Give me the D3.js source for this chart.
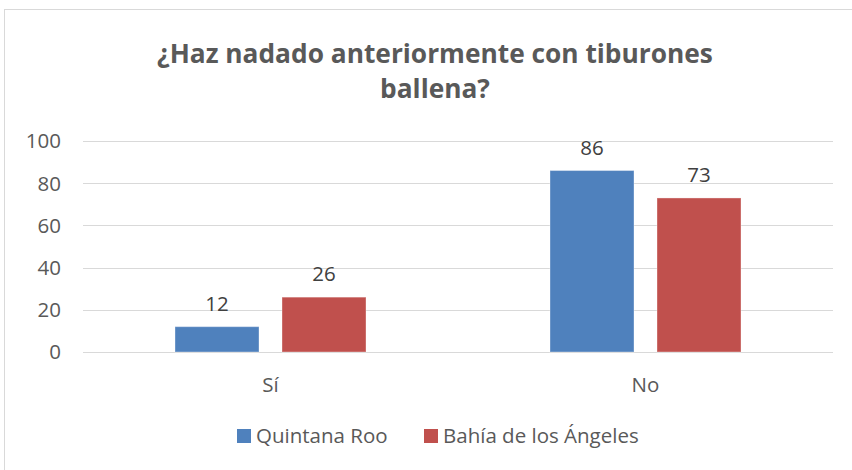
<!DOCTYPE html>
<html>
<head>
<meta charset="utf-8">
<script src="https://cdn.jsdelivr.net/npm/d3@7"></script>
<style>
  body { margin: 0; background: #fff; }
  svg { display: block; }
  text { font-family: "Open Sans", "Noto Sans", sans-serif; }
</style>
</head>
<body>
<svg id="chart" width="852" height="470"></svg>
<script>
// data
var categories = ['Sí', 'No'];
var seriesNames = ['Quintana Roo', 'Bahía de los Ángeles'];
var quintanaRoo = [12, 86];
var bahiaAngeles = [26, 73];
var yTicks = [0, 20, 40, 60, 80, 100];
var colors = ['#4F81BD', '#C0504D'];
var titleLines = ['¿Haz nadado anteriormente con tiburones', 'ballena?'];

var seriesValues = [quintanaRoo, bahiaAngeles];
var rows = categories.map(function (c, i) {
    return {cat: c, vals: seriesValues.map(function (s, j) { return {name: seriesNames[j], v: s[i], k: j}; })};
});

var svg = d3.select('#chart');
var labelSize = 20.5;

// outer chart border (runs off the right and bottom of the picture)
svg.append('rect')
    .attr('x', 4.5).attr('y', 9.5)
    .attr('width', 900).attr('height', 500)
    .attr('fill', '#fff')
    .attr('stroke', '#D9D9D9')
    .attr('stroke-width', 1);

// title
svg.append('g').selectAll('text').data(titleLines).enter().append('text')
    .attr('x', 435)
    .attr('y', function (d, i) { return 63 + i * 35; })
    .attr('text-anchor', 'middle')
    .attr('font-size', 26.3)
    .attr('font-weight', 'bold')
    .attr('fill', '#595959')
    .text(function (d) { return d; });

var x0 = d3.scaleBand().domain(categories).range([83, 833]);
var pad = 92 / 375 * x0.bandwidth();
var x1 = d3.scaleBand().domain(seriesNames)
    .range([pad, x0.bandwidth() - pad])
    .paddingInner(0.215);
var y = d3.scaleLinear().domain([0, 100]).range([352, 141]);

// gridlines
svg.append('g').selectAll('line').data(yTicks).enter().append('line')
    .attr('x1', 83).attr('x2', 833)
    .attr('y1', function (d) { return Math.round(y(d)) + 0.5; })
    .attr('y2', function (d) { return Math.round(y(d)) + 0.5; })
    .attr('stroke', '#D9D9D9')
    .attr('stroke-width', 1.2);

// y axis labels
svg.append('g').selectAll('text').data(yTicks).enter().append('text')
    .attr('x', 61)
    .attr('y', function (d) { return y(d); })
    .attr('dy', '0.36em')
    .attr('text-anchor', 'end')
    .attr('font-size', labelSize)
    .attr('fill', '#595959')
    .text(function (d) { return d; });

// bars
var groups = svg.append('g').selectAll('g').data(rows).enter().append('g')
    .attr('transform', function (d) { return 'translate(' + x0(d.cat) + ',0)'; });

groups.selectAll('rect').data(function (d) { return d.vals; }).enter().append('rect')
    .attr('x', function (d) { return x1(d.name); })
    .attr('y', function (d) { return y(d.v); })
    .attr('width', x1.bandwidth())
    .attr('height', function (d) { return y(0) - y(d.v); })
    .attr('fill', function (d) { return colors[d.k]; })
    .attr('stroke', 'rgba(255,255,255,0.35)')
    .attr('stroke-width', 1);

groups.selectAll('text').data(function (d) { return d.vals; }).enter().append('text')
    .attr('x', function (d) { return x1(d.name) + x1.bandwidth() / 2; })
    .attr('y', function (d) { return y(d.v) - 16; })
    .attr('text-anchor', 'middle')
    .attr('font-size', labelSize)
    .attr('fill', '#404040')
    .text(function (d) { return d.v; });

// category labels
svg.append('g').selectAll('text').data(categories).enter().append('text')
    .attr('x', function (d) { return x0(d) + x0.bandwidth() / 2; })
    .attr('y', 392)
    .attr('text-anchor', 'middle')
    .attr('font-size', labelSize)
    .attr('fill', '#595959')
    .text(function (d) { return d; });

// legend
var legendX = [237, 424];
var legend = svg.append('g').selectAll('g').data(seriesNames).enter().append('g')
    .attr('transform', function (d, i) { return 'translate(' + legendX[i] + ',429)'; });
legend.append('rect')
    .attr('width', 14).attr('height', 14)
    .attr('fill', function (d, i) { return colors[i]; });
legend.append('text')
    .attr('x', 19).attr('y', 14)
    .attr('font-size', labelSize)
    .attr('fill', '#595959')
    .text(function (d) { return d; });
</script>
</body>
</html>
